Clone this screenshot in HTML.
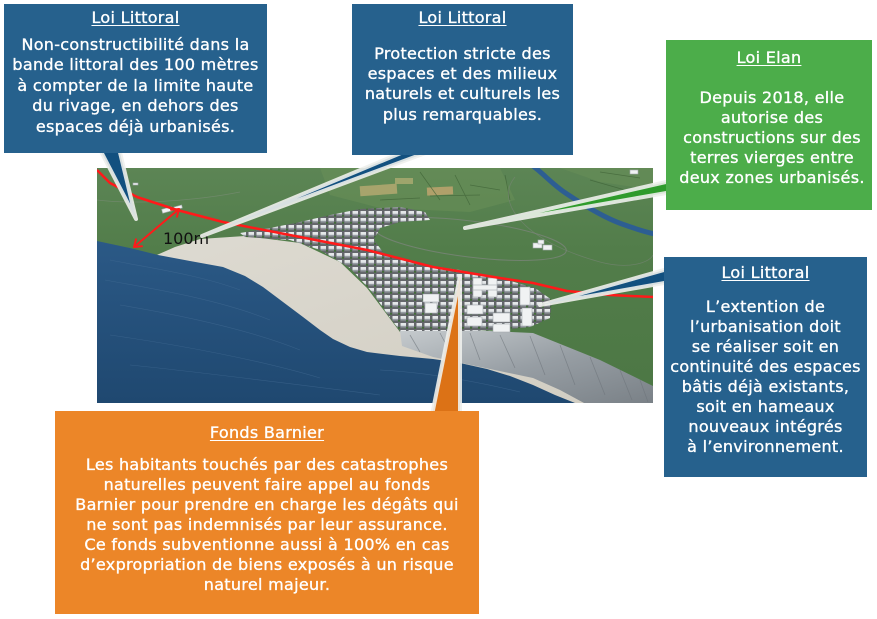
<!DOCTYPE html>
<html><head><meta charset="utf-8">
<style>
html,body{margin:0;padding:0;background:#fff;}
body{width:877px;height:619px;position:relative;overflow:hidden;font-family:"DejaVu Sans","Liberation Sans",sans-serif;}
svg{position:absolute;left:0;top:0;}
.box{position:absolute;color:#fff;}
.box .t,.box .b{position:absolute;left:0;right:0;text-align:center;font-size:16px;line-height:20px;letter-spacing:0.3px;white-space:nowrap;-webkit-text-stroke:0.35px #fff;}
.box .t{text-decoration:underline;text-underline-offset:2px;text-decoration-thickness:1px;}
.blue{background:#26618d}
.green{background:#4cad4a}
.orange{background:#ec8628}
</style></head><body>
<svg width="877" height="619" viewBox="0 0 877 619">
<defs>
<clipPath id="img"><rect x="97" y="168" width="556" height="235"/></clipPath>
<linearGradient id="grass" x1="0" y1="0" x2="0" y2="1">
 <stop offset="0" stop-color="#5c8555"/>
 <stop offset="0.35" stop-color="#527d4a"/>
 <stop offset="1" stop-color="#4c7744"/>
</linearGradient>
<linearGradient id="sea" x1="0" y1="0" x2="0" y2="1">
 <stop offset="0" stop-color="#2b5986"/>
 <stop offset="1" stop-color="#1f4870"/>
</linearGradient>
<linearGradient id="cliff" x1="0" y1="0" x2="1" y2="1">
 <stop offset="0" stop-color="#c6cbce"/>
 <stop offset="0.5" stop-color="#979ea4"/>
 <stop offset="1" stop-color="#7a8187"/>
</linearGradient>
<linearGradient id="sand" x1="0" y1="0" x2="1" y2="1">
 <stop offset="0" stop-color="#dedbd2"/>
 <stop offset="1" stop-color="#d2cec3"/>
</linearGradient>
<pattern id="bld" patternUnits="userSpaceOnUse" width="8" height="7">
 <rect width="8" height="7" fill="#64676b"/>
 <rect x="0.5" y="3.5" width="5.5" height="2" fill="#979da3"/>
 <rect x="0.5" y="1" width="5.5" height="2.8" fill="#e4e7e9"/>
 <circle cx="7" cy="5.8" r="1.1" fill="#3f6c36"/>
</pattern>
</defs>

<g clip-path="url(#img)">
 <rect x="97" y="168" width="556" height="235" fill="url(#grass)"/>
 <!-- fields -->
 <polygon points="320,168 500,168 515,200 470,212 380,208 330,195" fill="#6a9058" opacity="0.55"/>
 <polygon points="560,168 653,168 653,190 600,182" fill="#6a9058" opacity="0.5"/>
 <rect x="360" y="185" width="37" height="10" fill="#a7a46c" transform="rotate(-4 378 190)"/>
 <rect x="427" y="187" width="26" height="8" fill="#b0a06a" transform="rotate(-3 440 191)"/>
 <rect x="395" y="178" width="18" height="6" fill="#9ea56c"/>
 <g stroke="#3e6236" stroke-width="0.8" fill="none" opacity="0.7">
  <path d="M420,172 L440,200 M455,175 L470,205 M470,185 L500,190 M430,196 L480,195 M380,200 L420,198 M505,175 L510,200 M600,172 L640,178 M590,180 L625,190"/>
 </g>
 <!-- roads -->
 <path d="M97,200 C140,205 200,200 240,192" stroke="#7f8d7c" stroke-width="0.8" fill="none" opacity="0.6"/>
 <ellipse cx="470" cy="239" rx="97" ry="18" transform="rotate(7 470 239)" stroke="#7b8579" stroke-width="1" fill="none" opacity="0.8"/>
 <path d="M515,177 C495,200 520,240 600,262 C630,270 650,262 653,255" stroke="#7b8579" stroke-width="0.8" fill="none" opacity="0.6"/>
 <!-- river -->
 <path d="M533,166 C545,175 553,185 567,194 C585,206 605,218 622,224 C636,229 645,232 655,234" stroke="#2d5e92" stroke-width="5" fill="none"/>
 <!-- beach -->
 <polygon points="150,258 175,247 200,239 245,236 300,243 340,262 367,288 388,316 400,332 433,355 533,376 590,403 97,403" fill="url(#sand)"/>
 <!-- cliff -->
 <polygon points="400,331 467,330 533,333 600,360 653,386 653,403 584,403 560,390 533,378 433,357 402,346" fill="url(#cliff)"/>
 <g stroke="#6c7379" stroke-width="0.8" opacity="0.6" fill="none">
  <path d="M410,335 L420,352 M440,333 L452,356 M470,333 L480,360 M500,335 L515,368 M530,336 L545,375 M560,345 L575,385 M590,357 L605,395 M620,370 L632,400 M640,380 L648,402"/>
 </g>
 <!-- sea -->
 <polygon points="97,241 130,248 158,255 190,261 223,267 245,276 263,287 283,302 303,317 320,330 333,339 350,347 367,352 400,356 433,359 460,363 487,369 510,376 533,385 555,395 575,403 97,403" fill="url(#sea)"/>
 <g stroke="#4a7299" stroke-width="0.6" fill="none" opacity="0.5">
  <path d="M110,260 C150,268 200,275 240,290 M105,280 C160,290 220,300 270,320 M120,305 C180,315 250,330 300,350 M110,335 C180,345 260,360 320,378 M130,365 C200,372 300,385 380,395 M380,370 C420,372 470,380 520,392"/>
 </g>
 <!-- town -->
 <polygon points="240,233 270,228 300,222 330,215 360,209 400,207 425,212 430,220 400,222 380,228 374,240 385,255 420,265 460,270 500,278 535,288 552,300 550,318 530,327 500,330 460,331 400,331 388,315 372,292 350,268 320,250 290,240 245,237" fill="url(#bld)"/>
 <!-- larger buildings -->
 <g fill="#f0f2f3" stroke="#a3a9ae" stroke-width="0.6">
  <rect x="473" y="278" width="9" height="19"/>
  <rect x="488" y="278" width="9" height="19"/>
  <rect x="473" y="285" width="24" height="5"/>
  <rect x="467" y="305" width="16" height="9"/>
  <rect x="467" y="317" width="15" height="9"/>
  <rect x="493" y="313" width="17" height="9"/>
  <rect x="493" y="324" width="17" height="8"/>
  <rect x="520" y="287" width="10" height="18"/>
  <rect x="522" y="308" width="10" height="18"/>
  <rect x="423" y="294" width="16" height="8"/>
  <rect x="425" y="303" width="12" height="10"/>
  <rect x="533" y="243" width="9" height="5"/>
  <rect x="543" y="245" width="9" height="5"/>
  <rect x="538" y="240" width="6" height="4"/>
  <rect x="162" y="208" width="10" height="4" transform="rotate(-15 167 210)"/>
  <rect x="174" y="206" width="8" height="3" transform="rotate(-15 178 207)"/>
  <rect x="133" y="183" width="5" height="2"/>
  <rect x="630" y="170" width="8" height="4"/>
 </g>
 <!-- red line -->
 <polyline points="97,170 110,183 137,197 177,210 223,222 300,237 367,250 433,267 500,278 533,283 567,291 610,295 653,297" fill="none" stroke="#ff1a1a" stroke-width="2.5" stroke-linejoin="round"/>
 <g stroke="#ff1a1a" stroke-width="2" fill="none" stroke-linecap="round" stroke-linejoin="round">
  <line x1="134" y1="247" x2="179" y2="209"/>
  <polyline points="171,209.7 179,209 177,216.7"/>
  <polyline points="136,239.3 134,247 142,246.3"/>
 </g>
 <text x="163" y="244" font-family="DejaVu Sans, Liberation Sans, sans-serif" font-size="16" fill="#111">100m</text>
</g>

<!-- callout wedges -->
<g stroke="#eef0ec" stroke-width="4" stroke-linejoin="round" stroke-opacity="0.9">
 <polygon points="95,140 117,140 136,219" fill="#12507f"/>
 <polygon points="202,236 420,145 447,145" fill="#12507f"/>
 <polygon points="465,228 680,178.8 680,190.6" fill="#2f9b2c"/>
 <polygon points="540,305 680,265.5 680,280.2" fill="#12507f"/>
 <polygon points="460,276 430,425 460,425" fill="#dc7216"/>
</g>
</svg>

<div class="box blue" style="left:4px;top:4px;width:263px;height:149px">
 <div class="t" style="top:3.5px">Loi Littoral</div>
 <div class="b" style="top:30.7px;line-height:20.6px">Non-constructibilité dans la<br>bande littoral des 100 mètres<br>à compter de la limite haute<br>du rivage, en dehors des<br>espaces déjà urbanisés.</div>
</div>

<div class="box blue" style="left:352px;top:4px;width:221px;height:151px">
 <div class="t" style="top:3.5px">Loi Littoral</div>
 <div class="b" style="top:39.8px;line-height:20.3px">Protection stricte des<br>espaces et des milieux<br>naturels et culturels les<br>plus remarquables.</div>
</div>

<div class="box green" style="left:666px;top:40px;width:206px;height:170px">
 <div class="t" style="top:8px">Loi Elan</div>
 <div class="b" style="top:48px;padding-left:6px">Depuis 2018, elle<br>autorise des<br>constructions sur des<br>terres vierges entre<br>deux zones urbanisés.</div>
</div>

<div class="box blue" style="left:664px;top:257px;width:203px;height:220px">
 <div class="t" style="top:6px">Loi Littoral</div>
 <div class="b" style="top:40px">L’extention de<br>l’urbanisation doit<br>se réaliser soit en<br>continuité des espaces<br>bâtis déjà existants,<br>soit en hameaux<br>nouveaux intégrés<br>à l’environnement.</div>
</div>

<div class="box orange" style="left:55px;top:411px;width:424px;height:203px">
 <div class="t" style="top:12px">Fonds Barnier</div>
 <div class="b" style="top:44px">Les habitants touchés par des catastrophes<br>naturelles peuvent faire appel au fonds<br>Barnier pour prendre en charge les dégâts qui<br>ne sont pas indemnisés par leur assurance.<br>Ce fonds subventionne aussi à 100% en cas<br>d’expropriation de biens exposés à un risque<br>naturel majeur.</div>
</div>
</body></html>
